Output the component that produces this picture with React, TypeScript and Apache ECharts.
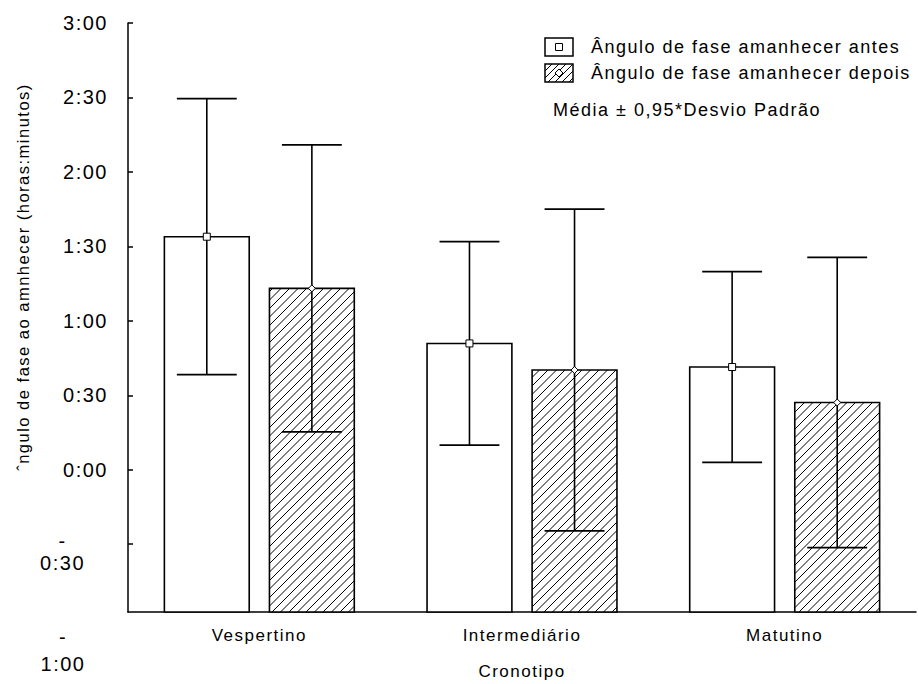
import React, { useEffect, useRef } from "react";
import * as echarts from "echarts";

// Phase angle at dawn (minutes), mean and 0.95*SD half-range per chronotype
const categories = ["Vespertino", "Intermediário", "Matutino"];
const antesMean = [93.9, 50.9, 41.4];
const antesErr = [55.6, 41.0, 38.4];
const depoisMean = [73.1, 40.2, 27.1];
const depoisErr = [57.8, 64.8, 58.5];

const yTickValues = [-30, 0, 30, 60, 90, 120, 150, 180];
const yOuterTickValue = -60;
const Y_MIN = -57.3;
const Y_MAX = 180;

const legendLabels = [
  "Ângulo de fase amanhecer antes",
  "Ângulo de fase amanhecer depois",
];
const statNote = "Média ± 0,95*Desvio Padrão";
const yTitle = "ˆngulo de fase ao amnhecer (horas:minutos)";
const xTitle = "Cronotipo";

const FONT = "'Liberation Sans', Arial, Helvetica, sans-serif";
const FS = 17;
const FS_TICK = 20;
const FS_LEGEND = 18;
const INK = "#000";

function fmtTime(v: number): string {
  const a = Math.abs(v);
  const h = Math.floor(a / 60);
  const m = Math.round(a % 60);
  return `${h}:${String(m).padStart(2, "0")}`;
}

// "/" hatching clipped to a rectangle, lines of the family x + y = c
function hatch(x0: number, y0: number, x1: number, y1: number, step: number, lw: number) {
  const out: any[] = [];
  const cStart = Math.ceil((x0 + y0) / step) * step;
  for (let c = cStart; c < x1 + y1; c += step) {
    const xa = Math.max(x0, c - y1);
    const xb = Math.min(x1, c - y0);
    if (xb - xa < 0.8) continue;
    out.push({
      type: "line",
      silent: true,
      shape: { x1: xa, y1: c - xa, x2: xb, y2: c - xb },
      style: { stroke: INK, lineWidth: lw },
    });
  }
  return out;
}

function squareMarker(cx: number, cy: number, s: number) {
  return {
    type: "rect",
    shape: { x: cx - s / 2, y: cy - s / 2, width: s, height: s },
    style: { fill: "#fff", stroke: INK, lineWidth: 1 },
  };
}

function diamondMarker(cx: number, cy: number, r: number) {
  return {
    type: "polygon",
    shape: { points: [[cx, cy - r], [cx + r, cy], [cx, cy + r], [cx - r, cy]] },
    style: { fill: "#fff", stroke: INK, lineWidth: 1 },
  };
}

function makeRenderItem(side: number, hatched: boolean) {
  return (params: any, api: any) => {
    const idx = api.value(0);
    const mean = api.value(1);
    const err = api.value(2);
    const band = api.size([1, 0])[0];
    const top = api.coord([idx, mean]);
    const cx = top[0] + side * band * 0.2;
    const yTop = top[1];
    const cs = params.coordSys;
    const yBase = cs.y + cs.height;
    const w = band * 0.323;
    const hi = api.coord([idx, mean + err])[1];
    const lo = api.coord([idx, mean - err])[1];
    const capHalf = band * 0.114;
    const x0 = cx - w / 2;
    const x1 = cx + w / 2;

    const children: any[] = [
      {
        type: "rect",
        shape: { x: x0, y: yTop, width: w, height: yBase - yTop },
        style: { fill: "#fff", stroke: "none" },
      },
    ];
    if (hatched) children.push(...hatch(x0, yTop, x1, yBase, 8.5, 1));
    children.push(
      {
        type: "rect",
        shape: { x: x0, y: yTop, width: w, height: yBase - yTop },
        style: { fill: "none", stroke: INK, lineWidth: 1.6 },
      },
      {
        type: "line",
        shape: { x1: cx, y1: hi, x2: cx, y2: lo },
        style: { stroke: INK, lineWidth: 1.6 },
      },
      {
        type: "line",
        shape: { x1: cx - capHalf, y1: hi, x2: cx + capHalf, y2: hi },
        style: { stroke: INK, lineWidth: 1.8 },
      },
      {
        type: "line",
        shape: { x1: cx - capHalf, y1: lo, x2: cx + capHalf, y2: lo },
        style: { stroke: INK, lineWidth: 1.8 },
      },
      hatched ? diamondMarker(cx, yTop, 3.5) : squareMarker(cx, yTop, 7)
    );
    return { type: "group", children };
  };
}

function legendGraphic() {
  const bx = 545;
  const bw = 28;
  const rows = [
    { y: 38, h: 18 },
    { y: 64, h: 18 },
  ];
  const els: any[] = [];
  // first key: plain box with square marker
  els.push({
    type: "rect",
    shape: { x: bx, y: rows[0].y, width: bw, height: rows[0].h },
    style: { fill: "#fff", stroke: INK, lineWidth: 1.5 },
  });
  els.push(squareMarker(bx + bw / 2, rows[0].y + rows[0].h / 2, 7));
  // second key: hatched box with diamond marker
  els.push(...hatch(bx, rows[1].y, bx + bw, rows[1].y + rows[1].h, 7, 1));
  els.push({
    type: "rect",
    shape: { x: bx, y: rows[1].y, width: bw, height: rows[1].h },
    style: { fill: "none", stroke: INK, lineWidth: 1.5 },
  });
  els.push(diamondMarker(bx + bw / 2, rows[1].y + rows[1].h / 2, 4));
  legendLabels.forEach((t, i) => {
    els.push({
      type: "text",
      x: 591,
      y: rows[i].y + rows[i].h / 2,
      style: { text: t, font: `${FS_LEGEND}px ${FONT}`, fill: INK, align: "left", verticalAlign: "middle" },
    });
  });
  els.push({
    type: "text",
    x: 553,
    y: 110,
    style: { text: statNote, font: `${FS_LEGEND}px ${FONT}`, fill: INK, align: "left", verticalAlign: "middle" },
  });
  return els;
}

function yLabel(v: number): string {
  if (v < 0) return `{gap| }\n{neg|-}\n{neg|${fmtTime(v)}}`;
  return fmtTime(v);
}

export default function App() {
  const ref = useRef<HTMLDivElement>(null);

  useEffect(() => {
    if (!ref.current) return;
    const chart = echarts.init(ref.current, undefined, { renderer: "svg" });
    const textStyle = { color: INK, fontFamily: FONT, fontSize: FS };
    const tickStyle = { color: INK, fontFamily: FONT, fontSize: FS_TICK };

    chart.setOption({
      animation: false,
      backgroundColor: "#fff",
      grid: {
        left: 128,
        right: 2,
        top: 23,
        bottom: 72,
        containLabel: false,
        outerBoundsMode: "none",
      },
      xAxis: {
        type: "category",
        data: categories,
        axisLine: { onZero: false, lineStyle: { color: INK, width: 1.5 } },
        axisTick: { alignWithLabel: true, inside: true, length: 5, lineStyle: { color: INK, width: 1.5 } },
        axisLabel: { ...textStyle, margin: 15 },
        splitLine: { show: false },
        name: xTitle,
        nameLocation: "middle",
        nameGap: 51,
        nameTextStyle: { ...textStyle },
      },
      yAxis: {
        type: "value",
        min: Y_MIN,
        max: Y_MAX,
        splitLine: { show: false },
        axisLine: { show: true, onZero: false, lineStyle: { color: INK, width: 1.5 } },
        axisTick: {
          show: true,
          inside: true,
          length: 5,
          customValues: yTickValues,
          lineStyle: { color: INK, width: 1.5 },
        },
        axisLabel: {
          ...tickStyle,
          customValues: yTickValues,
          margin: 20,
          align: "right",
          formatter: (v: number) => yLabel(v),
          rich: {
            gap: { fontSize: 2, lineHeight: 16, padding: [0, 26, 0, 0] },
            neg: { ...tickStyle, lineHeight: 22, align: "center", padding: [0, 26, 0, 0] },
          },
        },
      },
      graphic: [
        {
          type: "text",
          x: 23,
          y: 277,
          rotation: Math.PI / 2,
          style: {
            text: yTitle,
            font: `16.5px ${FONT}`,
            fill: INK,
            align: "center",
            verticalAlign: "middle",
          },
        },
        {
          type: "text",
          x: 63,
          y: 650,
          style: {
            text: `-\n${fmtTime(yOuterTickValue)}`,
            font: `${FS_TICK}px ${FONT}`,
            fill: INK,
            align: "center",
            verticalAlign: "middle",
            lineHeight: 27,
          },
        },
        ...legendGraphic(),
      ],
      series: [
        {
          type: "custom",
          name: legendLabels[0],
          renderItem: makeRenderItem(-1, false),
          encode: { x: 0, y: 1 },
          data: categories.map((_, i) => [i, antesMean[i], antesErr[i]]),
          clip: false,
        },
        {
          type: "custom",
          name: legendLabels[1],
          renderItem: makeRenderItem(1, true),
          encode: { x: 0, y: 1 },
          data: categories.map((_, i) => [i, depoisMean[i], depoisErr[i]]),
          clip: false,
        },
      ],
    });

    return () => chart.dispose();
  }, []);

  return (
    <>
      <style>{`.chart-host text { letter-spacing: 1.5px; }`}</style>
      <div
        ref={ref}
        className="chart-host"
        style={{ position: "absolute", left: 0, top: 0, width: 918, height: 684, background: "#fff" }}
      />
    </>
  );
}
